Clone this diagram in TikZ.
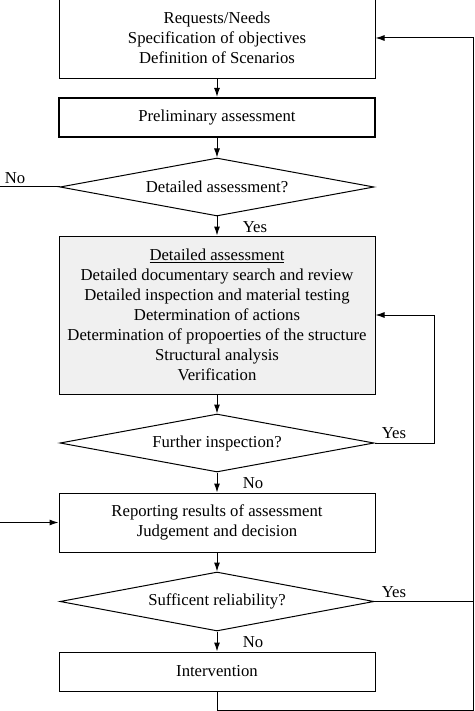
\documentclass[tikz,border=0pt]{standalone}
\usepackage{fontspec}
\setmainfont{Liberation Serif}
\usetikzlibrary{shapes.geometric}
\usetikzlibrary{arrows.meta}
\usetikzlibrary{positioning}

\begin{document}
\begin{tikzpicture}[
  x=1pt, y=-1pt,
  font=\fontsize{16.7pt}{20pt}\selectfont,
  dep/.style ={
    -{Latex[length=9pt,width=6pt]},line width=1pt
  },
  lin/.style ={line width=1pt},
  box/.style ={
    rectangle,
    draw,
    line width=1pt,
    minimum width=316pt,
    minimum height=#1,
    inner sep=0pt,
    align=center},
  dec/.style ={
    diamond,
    draw,
    line width=1pt,
    aspect=5.4,
    minimum width=314pt,
    minimum height=#1,
    inner sep=0pt},
  lbl/.style ={inner sep=0pt},
]

  \def\midx{217}%
  \def\feedx{434}%
  \def\outx{473}%

  \clip (0,0) rectangle (474,711);
  \fill[white] (0,0) rectangle (474,711);

    % Main column
  \node[box=82pt] (req) at (\midx, 38) 
      {Requests/Needs\\Specification of objectives\\Definition of Scenarios};
  \node[box=39pt, line width=2.2pt] (prelim) at (\midx, 117.5) 
      {Preliminary assessment};
  \node[dec=58pt] (askdet) at (\midx, 187) {Detailed assessment?};
  \node[box=158pt, fill=gray!12] (detail) at (\midx, 315) 
      {\underline{Detailed assessment}\\
       Detailed documentary search and review\\
       Detailed inspection and material testing\\
       Determination of actions\\
       Determination of propoerties of the structure\\
       Structural analysis\\
       Verification};
  \node[dec=58pt] (askinsp) at (\midx, 443) {Further inspection?};
  \node[box=59pt] (report) at (\midx, 522.5) 
      {Reporting results of assessment\\Judgement and decision};
  \node[dec=59pt] (askrel) at (\midx, 601.5) {Sufficent reliability?};
  \node[box=39pt] (interv) at (\midx, 671.5) {Intervention};

    % Downward arrows
  \draw[dep] (req.south) -- (prelim.north);
  \draw[dep] (prelim.south) -- (askdet.north);
  \draw[dep] (askdet.south) -- (detail.north);
  \draw[dep] (detail.south) -- (askinsp.north);
  \draw[dep] (askinsp.south) -- (report.north);
  \draw[dep] (report.south) -- (askrel.north);
  \draw[dep] (askrel.south) -- (interv.north);

  \node[lbl] (yes1) at (255, 227) {Yes};
  \node[lbl] (no2) at (253, 483) {No};
  \node[lbl] (no3) at (253, 642) {No};

    % Loops
  \coordinate (leftout) at (-20, 187);
  \draw[dep] (askdet.west) -- (leftout) |- (report.west);
  \node[lbl] (no1) at (15, 178) {No};

  \coordinate (feedcorner) at (\feedx, 443);
  \draw[dep] (askinsp.east) -- (feedcorner) |- (detail.east);
  \node[lbl] (yes2) at (394, 433) {Yes};

  \coordinate (outcorner) at (\outx, 710);
  \draw[lin] (askrel.east) -- (\outx, 601.5);
  \draw[dep] (interv.south) |- (outcorner) |- (req.east);
  \node[lbl] (yes3) at (394, 592) {Yes};

\end{tikzpicture}
\end{document}
